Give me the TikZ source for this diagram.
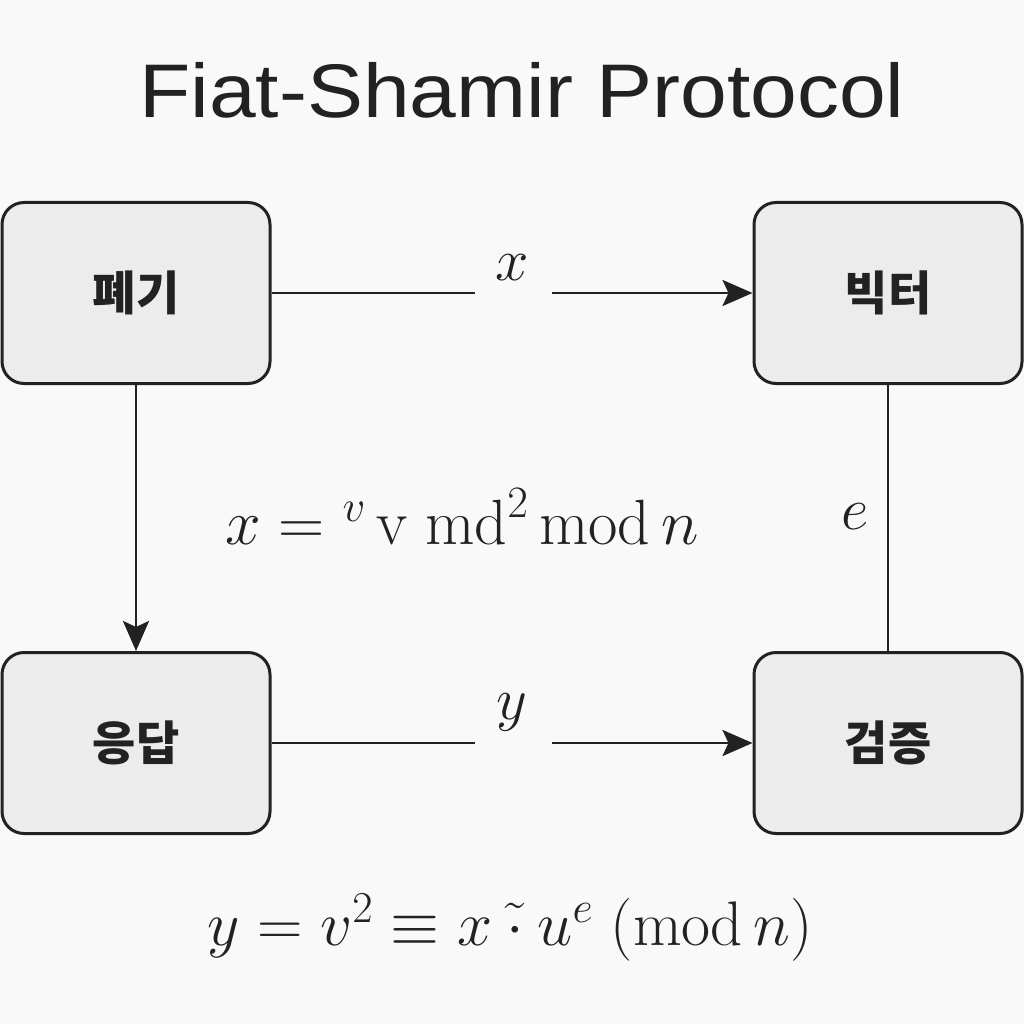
\RequirePackage{fix-cm}
\documentclass[tikz,border=0pt]{standalone}
\usepackage{amsmath}
\usepackage{fontspec}
\setsansfont{Liberation Sans}
\newfontfamily\krfont{Noto Sans CJK KR}
\usetikzlibrary{arrows.meta,positioning}
\definecolor{bgpaper}{HTML}{F9F9F9}
\definecolor{boxfill}{HTML}{ECECEC}
\definecolor{ink}{HTML}{222222}

\begin{document}
\begin{tikzpicture}[x=1pt,y=-1pt]
  \tikzset{party/.style = {shape=rectangle,draw=ink,line width=3pt,fill=boxfill,rounded corners=22pt,minimum width=268pt,minimum height=181pt,font=\krfont\bfseries\fontsize{47}{50}\selectfont,text=ink}}
  \tikzset{msg/.style = {font=\fontsize{60}{64}\selectfont,text=ink,inner sep=0pt}}
  \tikzset{wire/.style = {color=ink,line width=2.8pt}}
  \tikzset{%
  tipA/.tip={Stealth[length=30pt,width=26pt,inset=6pt]},
}

  \fill[bgpaper] (0,0) rectangle (1024,1024);
  \useasboundingbox (0,0) rectangle (1024,1024);

  \node[font=\sffamily\fontsize{76}{80}\selectfont,text=ink,anchor=base] (T) at (522,118) {\scalebox{1.105}[1]{Fiat-Shamir Protocol}};

	\node[party] (P) at (136,293) {폐기};
	\node[party] (V) at (888,293) {빅터};
	\node[party] (R) at (136,743) {응답};
	\node[party] (C) at (888,743) {검증};

	\coordinate (XL) at (475,293);
	\coordinate (XR) at (552,293);
	\coordinate (YL) at (475,743);
	\coordinate (YR) at (552,743);

	\node[msg] (X) at (512,268) {$x$};
	\node[msg] (Y) at (512,712) {$y$};
	\node[msg] (E) at (855,517) {$e$};

	\node[msg,font=\fontsize{64}{68}\selectfont] (F1) at (462,517) {$x = {}^{v}\,\mathrm{v}\;\mathrm{md}^{2}\,\mathrm{mod}\,n$};
	\node[msg,font=\fontsize{63}{68}\selectfont] (F2) at (510,928) {$y = v^{2} \equiv x \mathbin{\tilde{\cdot}} u^{e}\;(\mathrm{mod}\,n)$};

    \foreach \from/\to in {P/XL, R/YL, V/C}
    \path[wire](\from) edge (\to);

    \foreach \from/\to in {XR/V, YR/C, P/R}
    \path[wire,-tipA](\from) edge (\to);

\end{tikzpicture}
\end{document}
